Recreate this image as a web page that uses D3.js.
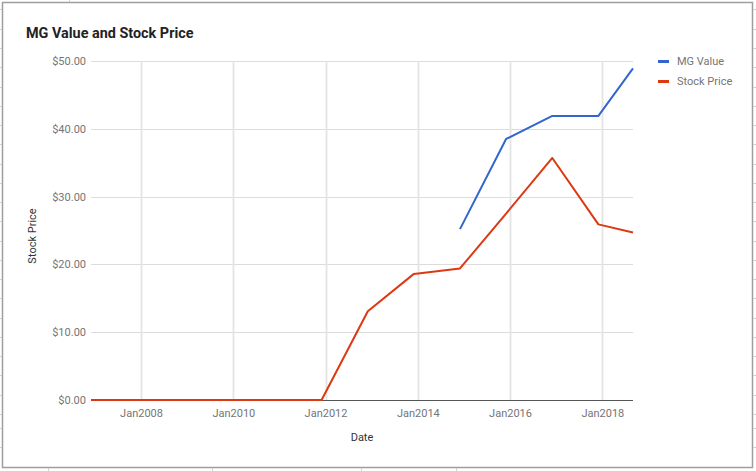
<!DOCTYPE html>
<html><head><meta charset="utf-8">
<script src="https://cdn.jsdelivr.net/npm/d3@7"></script>
<style>body{margin:0;background:#fff;}svg{display:block;font-family:Roboto,Arial,sans-serif;}</style>
</head><body>
<svg id="c" width="756" height="471"></svg>
<script>
const dates = ["2006-12-01","2007-12-01","2008-12-01","2009-12-01","2010-12-01","2011-12-01","2012-12-01","2013-12-01","2014-12-01","2015-12-01","2016-12-01","2017-12-01","2018-09-01"];
const stockPrice = [0,0,0,0,0,0,13.1,18.6,19.4,27.5,35.7,25.9,24.7];
const mgValue = [null,null,null,null,null,null,null,null,25.2,38.5,41.9,41.9,48.9];
const seriesNames = ["MG Value","Stock Price"];
const seriesColors = ["#3366cc","#dc3912"];
const yTicks = [0,10,20,30,40,50];
const xTickYears = [2008,2010,2012,2014,2016,2018];

const svg = d3.select("#c");
const parse = d3.timeParse("%Y-%m-%d");
const dd = dates.map(parse);
const L = 91, R = 633, T = 61, B = 400;
const x = d3.scaleTime().domain([dd[0], dd[dd.length-1]]).range([L, R]);
const y = d3.scaleLinear().domain([0, 50]).range([B, T]);

// outer frame + spreadsheet remnants
const frame = svg.append("g").attr("stroke","#9e9e9e").attr("fill","none");
frame.append("rect").attr("x",2.5).attr("y",2.5).attr("width",750).attr("height",465).attr("stroke-width",1.5);
[9,29,48,67,87,106,125,144,164,183,202,221,241,260,279,298,318,337,356,375,395,414,428,447].forEach(v=>{
  frame.append("line").attr("x1",0).attr("x2",2).attr("y1",v+0.5).attr("y2",v+0.5).attr("stroke","#d0d0d0");
  frame.append("line").attr("x1",753).attr("x2",756).attr("y1",v+0.5).attr("y2",v+0.5).attr("stroke","#d0d0d0");
});
[48,212,361,456].forEach(v=>{
  frame.append("line").attr("x1",v+0.5).attr("x2",v+0.5).attr("y1",468).attr("y2",471).attr("stroke","#d0d0d0");
});
frame.append("line").attr("x1",69.5).attr("x2",69.5).attr("y1",0).attr("y2",2).attr("stroke","#d0d0d0");

// title
svg.append("text").attr("x",26).attr("y",38).attr("font-size",14.4).attr("font-weight","bold").attr("fill","#222").text("MG Value and Stock Price");

// horizontal gridlines
svg.append("g").selectAll("line").data(yTicks.filter(v=>v>0)).join("line")
  .attr("x1",L).attr("x2",R).attr("y1",d=>Math.round(y(d))+0.5).attr("y2",d=>Math.round(y(d))+0.5)
  .attr("stroke","#dcdcdc").attr("stroke-width",1);
// vertical gridlines
const xTickDates = xTickYears.map(yr=>new Date(yr,0,1));
svg.append("g").selectAll("line").data(xTickDates).join("line")
  .attr("x1",d=>Math.round(x(d))+0.5).attr("x2",d=>Math.round(x(d))+0.5).attr("y1",T).attr("y2",B)
  .attr("stroke","#e4e4e4").attr("stroke-width",1.8);

// y axis labels
const yAxis = d3.axisLeft(y).tickValues(yTicks).tickSize(0).tickPadding(5).tickFormat(d=>"$"+d.toFixed(2));
const gy = svg.append("g").attr("transform",`translate(${L},0)`).call(yAxis);
gy.select(".domain").remove();
gy.selectAll("text").attr("font-size",11).attr("fill","#757575").attr("font-family","Roboto,Arial,sans-serif");

// x axis labels
const xAxis = d3.axisBottom(x).tickValues(xTickDates).tickSize(0).tickPadding(9).tickFormat(d3.timeFormat("Jan%Y"));
const gx = svg.append("g").attr("transform",`translate(0,${B})`).call(xAxis);
gx.select(".domain").remove();
gx.selectAll("text").attr("font-size",11).attr("fill","#757575").attr("font-family","Roboto,Arial,sans-serif");

// baseline
svg.append("line").attr("x1",L).attr("x2",R).attr("y1",B+0.5).attr("y2",B+0.5).attr("stroke","#555").attr("stroke-width",1.2);

// axis titles
svg.append("text").attr("x",362).attr("y",441).attr("text-anchor","middle").attr("font-size",11).attr("fill","#333").text("Date");
svg.append("text").attr("transform","translate(36,236) rotate(-90)").attr("text-anchor","middle").attr("font-size",11).attr("fill","#333").text("Stock Price");

// lines
const line = d3.line().defined(d=>d[1]!==null).x(d=>x(d[0])).y(d=>y(d[1]));
[mgValue, stockPrice].forEach((vals,i)=>{
  svg.append("path").datum(dd.map((d,j)=>[d,vals[j]])).attr("d",line)
    .attr("fill","none").attr("stroke",seriesColors[i]).attr("stroke-width",2).attr("stroke-linejoin","round");
});

// legend
const lg = svg.append("g");
seriesNames.forEach((n,i)=>{
  const yy = 61 + i*20;
  lg.append("line").attr("x1",658).attr("x2",669).attr("y1",yy+0.5).attr("y2",yy+0.5).attr("stroke",seriesColors[i]).attr("stroke-width",3);
  lg.append("text").attr("x",677).attr("y",yy+4).attr("font-size",11).attr("fill","#757575").text(n);
});
</script>
</body></html>
